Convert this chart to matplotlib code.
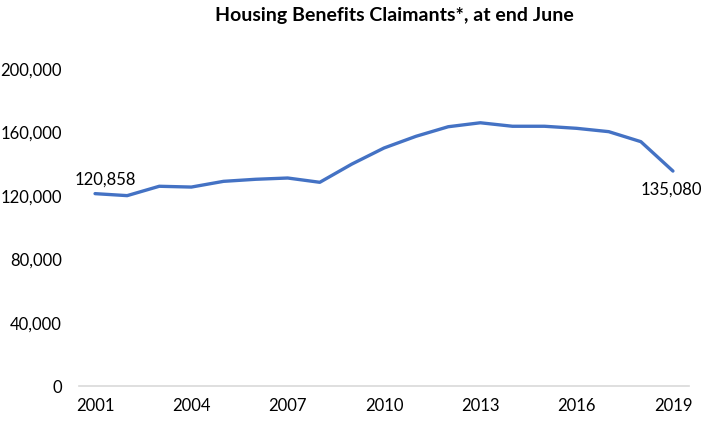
import matplotlib
matplotlib.use("Agg")
import matplotlib.pyplot as plt
from matplotlib.ticker import FuncFormatter

plt.rcParams['font.family'] = ['Lato', 'DejaVu Sans']

years = list(range(2001, 2020))
claimants = [120858, 119600, 125500, 125000, 128600, 129900, 130700, 128000,
             139500, 149600, 157000, 163000, 165500, 163300, 163300, 162000,
             159900, 153600, 135080]
title = "Housing Benefits Claimants*, at end June"
xtick_years = [2001, 2004, 2007, 2010, 2013, 2016, 2019]
yticks = [0, 40000, 80000, 120000, 160000, 200000]

fig = plt.figure(figsize=(7.12, 4.27), dpi=100)
ax = fig.add_axes([79/712, 40.5/427, 610/712, 317.5/427])

ax.plot(years, claimants, color='#4472C4', linewidth=2.4, solid_capstyle='round',
        solid_joinstyle='round', clip_on=False)

ax.set_xlim(years[0] - 0.5, years[-1] + 0.5)
ax.set_ylim(0, 200000)
ax.set_xticks(xtick_years)
ax.set_yticks(yticks)
ax.yaxis.set_major_formatter(FuncFormatter(lambda v, p: f"{int(v):,}"))
ax.tick_params(axis='both', length=0, labelsize=12, colors='black')
ax.tick_params(axis='y', pad=12.5)
ax.tick_params(axis='x', pad=8)

for s in ['top', 'right', 'left']:
    ax.spines[s].set_visible(False)
ax.spines['bottom'].set_color('#D9D9D9')
ax.spines['bottom'].set_linewidth(1.2)

ax.annotate(f"{claimants[0]:,}", (years[0], claimants[0]), xytext=(-14.4, 7.2),
            textcoords='offset points', ha='left', va='baseline', fontsize=12)
ax.annotate(f"{claimants[-1]:,}", (years[-1], claimants[-1]), xytext=(-23.5, -16.5),
            textcoords='offset points', ha='left', va='baseline', fontsize=12)

fig.text(394/712, 1 - 15/427, title, ha='center', va='center', fontsize=14,
         fontweight='bold')

fig.savefig('out.png', dpi=100)
